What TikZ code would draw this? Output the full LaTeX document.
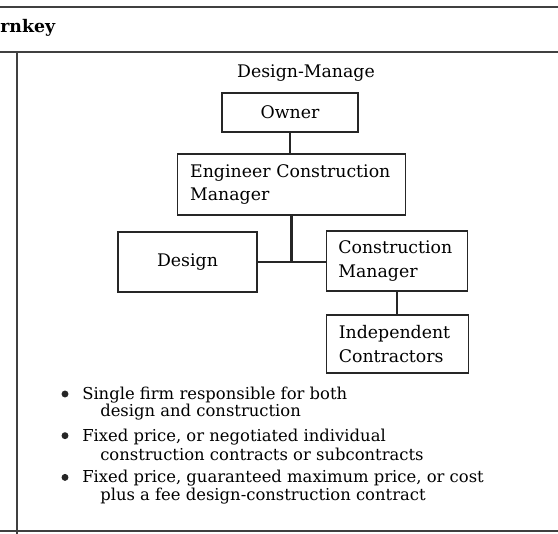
\documentclass[tikz,border=0pt]{standalone}
\usepackage{fontspec}
\setmainfont{DejaVu Serif}
\usetikzlibrary{positioning}

\newcommand\orgfont{\fontsize{13}{17.5}\selectfont}
\newcommand\notefont{\fontsize{12.3}{13}\selectfont}

\begin{document}
\begin{tikzpicture}
[   x=0.75pt, y=-0.75pt,
    orgbox/.style={draw=black!85, line width=0.8pt, font=\orgfont, inner sep=0pt},
    link/.style={line width=1.6pt, draw=black!85},
    rule/.style={line width=1.2pt, draw=black!75},
    notetext/.style={anchor=west, font=\notefont, inner sep=0pt},
    dot/.style={circle, fill=black!85, inner sep=0pt, minimum size=5.2pt}, ]
    \useasboundingbox (0,0) rectangle (558,534);

    % table rules
    \draw[rule] (0,7) -- (558,7);
    \draw[rule] (0,52) -- (558,52);
    \draw[rule] (17,52) -- (17,534);
    \draw[rule] (0,531) -- (558,531);

    \node[anchor=west, font=\orgfont\bfseries, inner sep=0pt] (kind) at (0,28) {rnkey};
    \node[font=\orgfont, inner sep=0pt] (title) at (306,73) {Design-Manage};

    % organisation chart
    \node[orgbox, minimum width=102pt, minimum height=29.25pt] (owner) at (290,112.5) {Owner};
    \node[orgbox, text width=152pt, align=left, inner xsep=9.75pt, minimum height=45.75pt] (ecm) at (291.5,184.5) {Engineer Construction\\Manager};
    \node[orgbox, minimum width=104.25pt, minimum height=45pt] (design) at (187.5,262) {Design};
    \node[orgbox, text width=88pt, align=left, inner xsep=9pt, minimum height=45pt] (cm) at (397,261) {Construction\\Manager};
    \node[orgbox, text width=88pt, align=left, inner xsep=9.5pt, minimum height=43.5pt] (contractors) at (397.5,344) {Independent\\Contractors};

    \draw[link] (owner.south) -- (owner.south |- ecm.north);
    \draw[link] (ecm.south) -- (ecm.south |- design.east);
    \draw[link] (design.east) -- (design.east -| cm.west);
    \draw[link] (cm.south) -- (cm.south |- contractors.north);

    % notes
    \foreach \i/\first/\second in {0/{Single firm responsible for both}/{design and construction},
                                   1/{Fixed price, or negotiated individual}/{construction contracts or subcontracts},
                                   2/{Fixed price, guaranteed maximum price, or cost}/{plus a fee design-construction contract}}
    {
        \node[dot] (dot-\i) at (65,{394+41.7*\i}) {};
        \node[notetext] (first-\i) at (82,{395+41.7*\i}) {\first};
        \node[notetext] (second-\i) at (100,{412.5+41.7*\i}) {\second};
    }
\end{tikzpicture}
\end{document}
